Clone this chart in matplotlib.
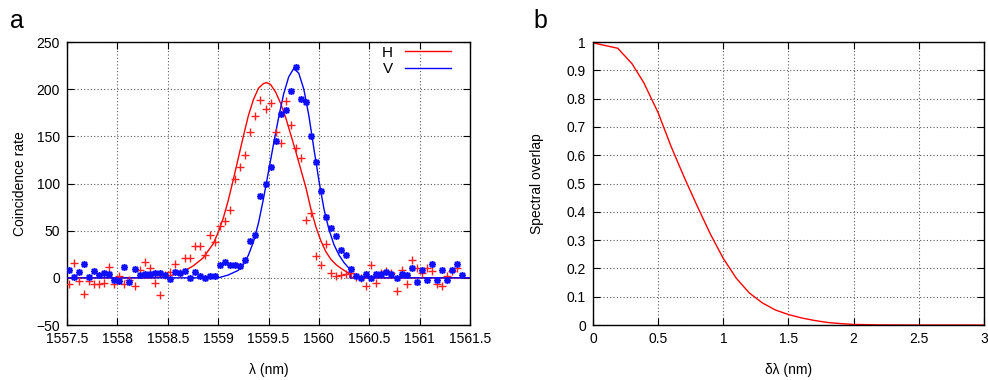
import matplotlib
matplotlib.use("Agg")
import matplotlib.pyplot as plt

plt.rcParams["font.family"] = ["Liberation Sans", "DejaVu Sans"]
plt.rcParams["font.size"] = 10

# panel a: measured coincidence rates (wavelength grid in nm)
wl = [1557.52, 1557.57, 1557.62, 1557.67, 1557.72, 1557.77, 1557.82, 1557.87, 1557.92, 1557.97,
      1558.02, 1558.07, 1558.12, 1558.17, 1558.22, 1558.27, 1558.32, 1558.37, 1558.42, 1558.47,
      1558.52, 1558.57, 1558.62, 1558.67, 1558.72, 1558.77, 1558.82, 1558.87, 1558.92, 1558.97,
      1559.02, 1559.07, 1559.12, 1559.17, 1559.22, 1559.27, 1559.32, 1559.37, 1559.42, 1559.47,
      1559.52, 1559.57, 1559.62, 1559.67, 1559.72, 1559.77, 1559.82, 1559.87, 1559.92, 1559.97,
      1560.02, 1560.07, 1560.12, 1560.17, 1560.22, 1560.27, 1560.32, 1560.37, 1560.42, 1560.47,
      1560.52, 1560.57, 1560.62, 1560.67, 1560.72, 1560.77, 1560.82, 1560.87, 1560.92, 1560.97,
      1561.02, 1561.07, 1561.12, 1561.17, 1561.22, 1561.27, 1561.32, 1561.37, 1561.42]

h_data = [-6.4, 15.5, -3.5, -17, -3, -7, -7, -5.3, 12, -7,
          1.8, -7, -2, -8.8, 8.5, 16.6, 10, -5.3, -18.7, 2.5,
          6.7, 15, 5, 21, 21, 34, 34, 24, 45, 38,
          55, 60, 72, 105, 118, 130, 155, 172, 189, 179,
          185, 155, 142.6, 188, 162, 137.7, 127, 61.8, 68.9, 23.6,
          13.5, 36, 5.5, 1.8, 3.4, 4, 5.5, 1, 0, -8.8,
          14, -5.3, 5, 7, 5.3, -14, 8.8, -7, 19, 10.6,
          5.3, 10.6, 7, -7, -8.8, 1.8, 7, 10.6]

v_data = [8.8, 1, 6, 15, 1, 7, 2.5, 5, 4, -2,
          -3, 11, -4.5, 9.5, 2.5, 4, 4, 5, 5, 2.5,
          -1, 6, 5, 7, -0.5, 6, 1.8, 0, 1.8, 1.8,
          14, 16.6, 14, 14, 13, 19, 39.5, 45.5, 86.5, 100,
          118, 145, 174, 178, 198, 223, 190, 186, 150, 123,
          92, 64, 53, 44, 29, 24, 9, 2, 0, 4,
          0, 4, 4, 6, 4, 0, 4, 3, 10.6, -4,
          7.8, -2, 15, -2, 7.8, -2, 7.8, 15, 2.5]

# fitted curves
h_fit_wl = [1557.5, 1558.35, 1558.45, 1558.55, 1558.65, 1558.75, 1558.85, 1558.95, 1559.0,
            1559.05, 1559.1, 1559.15, 1559.2, 1559.25, 1559.3, 1559.35, 1559.4, 1559.45,
            1559.48, 1559.52, 1559.57, 1559.62, 1559.67, 1559.72, 1559.77, 1559.82, 1559.87,
            1559.92, 1559.97, 1560.02, 1560.07, 1560.12, 1560.17, 1560.22, 1560.27, 1560.31,
            1560.31, 1561.5]
h_fit = [0, 0, 1, 3, 6.5, 12.5, 21, 36, 48,
         63, 82, 104, 127, 150, 172, 189, 201, 206,
         207, 205, 197, 185, 170, 152, 134, 115, 96,
         73, 54, 39, 27.5, 19.5, 14, 10, 6.5, 4.5,
         0, 0]

v_fit_wl = [1557.5, 1559.0, 1559.1, 1559.2, 1559.25, 1559.3, 1559.35, 1559.4, 1559.45, 1559.5,
            1559.55, 1559.6, 1559.65, 1559.7, 1559.75, 1559.8, 1559.85, 1559.9, 1559.95, 1560.0,
            1560.05, 1560.1, 1560.15, 1560.2, 1560.25, 1560.31, 1560.31, 1561.5]
v_fit = [0, 0, 3, 8, 14, 24, 38, 58, 84, 113,
         142, 170, 195, 213, 222, 217, 200, 172, 137, 103,
         73, 51, 35, 24, 16, 8.8, 0, 0]

# panel b: spectral overlap vs detuning
dl = [0, 0.19, 0.3, 0.39, 0.5, 0.6, 0.7, 0.8, 0.9, 1.0, 1.1, 1.2,
      1.3, 1.4, 1.5, 1.6, 1.7, 1.8, 1.9, 2.0, 2.2, 2.5, 3.0]
overlap = [0.997, 0.978, 0.923, 0.856, 0.75, 0.63, 0.522, 0.42, 0.322, 0.235, 0.165, 0.113,
           0.078, 0.053, 0.037, 0.025, 0.016, 0.009, 0.005, 0.002, 0.0005, 0, 0]

x_ticks_a = [1557.5, 1558, 1558.5, 1559, 1559.5, 1560, 1560.5, 1561, 1561.5]
y_ticks_a = [-50, 0, 50, 100, 150, 200, 250]
x_ticks_b = [0, 0.5, 1, 1.5, 2, 2.5, 3]
y_ticks_b = [0, 0.1, 0.2, 0.3, 0.4, 0.5, 0.6, 0.7, 0.8, 0.9, 1]

fig = plt.figure(figsize=(9.88, 3.8), dpi=100)
ax1 = fig.add_axes([0.0678, 0.1447, 0.408, 0.7447])
ax2 = fig.add_axes([0.6002, 0.1447, 0.3957, 0.7447])


def style(ax):
    ax.grid(True, linestyle=(0, (1, 2)), color="0.35", linewidth=0.8)
    ax.set_axisbelow(True)
    ax.tick_params(direction="in", length=5, top=True, right=True, width=0.8, pad=5)
    for s in ax.spines.values():
        s.set_linewidth(1.0)


ax1.plot(h_fit_wl, h_fit, color="#ff0000", lw=1.0, label="H", zorder=3)
ax1.plot(v_fit_wl, v_fit, color="#0000ff", lw=1.0, label="V", zorder=3)
ax1.plot(wl[:len(h_data)], h_data, ls="none", marker="+", ms=5.5, mew=1.0, color="#ff2020", zorder=4)
ax1.plot(wl, v_data, ls="none", marker=(8, 2, 0), ms=5, mew=1.1, color="#1010ff", zorder=4)
ax1.set_xlim(1557.5, 1561.5)
ax1.set_ylim(-50, 250)
ax1.set_xticks(x_ticks_a)
ax1.set_xticklabels(["%g" % t for t in x_ticks_a])
ax1.set_yticks(y_ticks_a)
ax1.set_xlabel("λ (nm)", labelpad=12)
ax1.set_ylabel("Coincidence rate", labelpad=7)
style(ax1)
ax1.legend(loc="upper right", bbox_to_anchor=(0.953, 0.987), frameon=False,
           markerfirst=False, handlelength=3.0, handletextpad=0.8, labelspacing=0.15,
           borderaxespad=0, borderpad=0, fontsize=11)

ax2.plot(dl, overlap, color="#ff0000", lw=1.0)
ax2.set_xlim(0, 3)
ax2.set_ylim(0, 1)
ax2.set_xticks(x_ticks_b)
ax2.set_xticklabels(["%g" % t for t in x_ticks_b])
ax2.set_yticks(y_ticks_b)
ax2.set_yticklabels(["%g" % t for t in y_ticks_b])
ax2.set_xlabel("δλ (nm)", labelpad=12)
ax2.set_ylabel("Spectral overlap", labelpad=16)
style(ax2)

fig.text(0.010, 0.975, "a", fontsize=18, va="top")
fig.text(0.540, 0.975, "b", fontsize=18, va="top")

fig.savefig("out.png", dpi=100)
